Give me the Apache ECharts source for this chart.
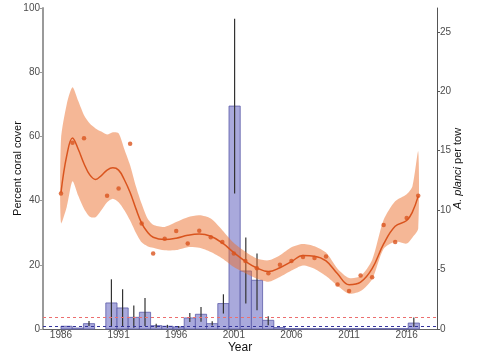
<!DOCTYPE html>
<html><head><meta charset="utf-8">
<script src="https://cdn.jsdelivr.net/npm/echarts@6/dist/echarts.min.js"></script>
<style>html,body{margin:0;padding:0;background:#fff}#c{width:480px;height:360px}</style>
</head><body><div id="c"></div>
<script>
// ---- data ----
const yearTicks = [1986, 1991, 1996, 2001, 2006, 2011, 2016];
const coverTicks = [0, 20, 40, 60, 80, 100];
const cotsTicks = [0, 5, 10, 15, 20, 25];

const coverYears  = [1986,1987,1988,1990,1991,1992,1993,1994,1995,1996,1997,1998,1999,2000,2001,2002,2003,2004,2005,2006,2007,2008,2009,2010,2011,2012,2013,2014,2015,2016,2017];
const coverValues = [42.2,58.0,59.4,41.5,43.8,57.7,32.9,23.5,28.1,30.5,26.6,30.6,28.6,27.1,23.5,21.2,18.9,17.4,20.0,21.2,22.4,22.1,22.6,13.9,11.8,16.7,16.1,32.4,27.1,34.6,41.5];

const fitYears = [1986,1986.5,1987,1987.5,1988,1988.5,1989,1989.5,1990,1990.5,1991,1991.5,1992,1992.5,1993,1993.5,1994,1995,1996,1997,1998,1999,2000,2001,2002,2003,2004,2005,2006,2007,2008,2009,2010,2011,2012,2013,2014,2015,2016,2016.5,2017];
const fitValues = [42.5,54,59.5,56,51.5,48,46.6,47.8,49.5,50.2,49.5,46.5,42.5,37.5,33,30.2,28.6,27.9,28.3,29.2,29.6,28.9,26.8,23.8,21.1,19.0,17.9,19.1,21.0,22.9,22.7,21.2,17.2,13.8,14.6,18.8,26.5,32.0,33.8,36.5,41.4];
const fitUpper  = [59,70,75.3,71,66.6,64,62.5,61.5,60.6,61.3,61,56,51,44.5,39,34.5,32.5,31.8,33.3,34.8,35.4,34.4,30.8,26.8,24.1,22.0,21.4,23.0,25.5,26.5,25.8,23.8,18.8,15.9,16.5,21.5,34,39.8,42,44.5,55.3];
const fitLower  = [33,38,46,41.5,37.5,35,34.8,37,39.5,40.6,39.5,37,33.8,30,27,25.8,25.3,24.5,24.6,25.5,25.3,24.0,22.0,19.3,17.4,15.7,14.7,16.2,18.2,19.8,18.8,16.5,13.5,11.0,11.8,15.5,25,27.2,26.6,28.5,31.3];

// A. planci surveys 1986..2017 (index 0..31); 1989 not surveyed
const surveyYears = [1986,1987,1988,1989,1990,1991,1992,1993,1994,1995,1996,1997,1998,1999,2000,2001,2002,2003,2004,2005,2006,2007,2008,2009,2010,2011,2012,2013,2014,2015,2016,2017];
const cotsValues  = [0.23,0.08,0.45,null,2.19,1.77,0.98,1.41,0.28,0.23,0.17,0.93,1.24,0.45,2.14,18.75,4.88,4.1,0.73,0.12,0.03,0.03,0.02,0.03,0.02,0.02,0.03,0.02,0.03,0.03,0.03,0.5];
const cotsErrLow  = [null,null,0.25,null,0.2,0.2,0.1,0.25,0.1,0.1,0.1,0.59,0.6,0.3,1.3,11.4,2.14,1.57,0.31,null,null,null,null,null,null,null,null,null,null,null,null,0.17];
const cotsErrHigh = [null,null,0.67,null,4.18,3.34,1.97,2.61,0.45,0.35,0.25,1.35,1.85,0.65,2.92,26.1,7.69,6.35,1.07,null,null,null,null,null,null,null,null,null,null,null,null,0.96];

const thresholdValues = [1.0, 0.22];          // outbreak, incipient outbreak
const thresholdColors = ['#ec6f6f', '#34349c'];

// ---- chart ----
const chart = echarts.init(document.getElementById('c'), null, {renderer: 'canvas'});
const orange = '#d9541e';
const labelStyle = {fontSize: 10, color: '#4d4d4d', fontFamily: 'Liberation Sans, Arial, sans-serif'};

const barData = [];
surveyYears.forEach((y, i) => {
  if (cotsValues[i] == null) return;
  barData.push([i, cotsValues[i], cotsErrLow[i] == null ? NaN : cotsErrLow[i], cotsErrHigh[i] == null ? NaN : cotsErrHigh[i]]);
});

const X_MIN = -1.607, X_MAX = 33.57;

const option = {
  animation: false,
  backgroundColor: '#fff',
  textStyle: {fontFamily: 'Liberation Sans, Arial, sans-serif'},
  grid: {left: 43, right: 43, top: 8, bottom: 31},
  xAxis: [{
    type: 'value', min: 1984.44, max: 2018.63,
    axisLine: {show: true, onZero: false, lineStyle: {color: '#666', width: 1}},
    axisTick: {show: true, length: 3, lineStyle: {color: '#666'}, customValues: yearTicks},
    axisLabel: Object.assign({margin: 1, customValues: yearTicks, formatter: v => String(v)}, labelStyle),
    splitLine: {show: false},
    name: 'Year', nameLocation: 'middle', nameGap: 13, nameMoveOverlap: false,
    nameTextStyle: {fontSize: 12, color: '#111'}
  }, {
    type: 'value', min: X_MIN, max: X_MAX, show: false,
    axisLine: {onZero: false}
  }],
  yAxis: [{
    type: 'value', min: 0, max: 100,
    axisLine: {show: true, onZero: false, lineStyle: {color: '#9a9a9a', width: 2}},
    axisTick: {show: true, length: 3, lineStyle: {color: '#9a9a9a'}, customValues: coverTicks},
    axisLabel: Object.assign({margin: 3, customValues: coverTicks}, labelStyle),
    splitLine: {show: false},
    name: 'Percent coral cover', nameLocation: 'middle', nameGap: 20, nameRotate: 90, nameMoveOverlap: false,
    nameTextStyle: {fontSize: 11, color: '#111'}
  }, {
    type: 'value', min: 0, max: 27, position: 'right',
    axisLine: {show: true, onZero: false, lineStyle: {color: '#555', width: 1}},
    axisTick: {show: true, length: 3, lineStyle: {color: '#555'}, customValues: cotsTicks},
    axisLabel: Object.assign({margin: 3, customValues: cotsTicks}, labelStyle),
    splitLine: {show: false},
    name: '{i|A. planci} per tow', nameLocation: 'middle', nameGap: 15, nameRotate: 90, nameMoveOverlap: false,
    nameTextStyle: {fontSize: 11, color: '#111', rich: {i: {fontStyle: 'italic', fontSize: 11, color: '#111'}}}
  }],
  series: [
    {
      type: 'custom', xAxisIndex: 1, yAxisIndex: 1, z: 1,
      data: barData,
      renderItem: (params, api) => {
        const i = api.value(0), v = api.value(1), lo = api.value(2), hi = api.value(3);
        const p0 = api.coord([i, v]);
        const p1 = api.coord([i + 1, 0]);
        const children = [{
          type: 'rect',
          shape: {x: p0[0], y: p0[1], width: p1[0] - p0[0], height: p1[1] - p0[1]},
          style: {fill: '#a9a9dc', stroke: '#5c5ca8', lineWidth: 0.8}
        }];
        if (!isNaN(hi)) {
          const e0 = api.coord([i + 0.5, lo]);
          const e1 = api.coord([i + 0.5, hi]);
          children.push({type: 'line', shape: {x1: e0[0], y1: e0[1], x2: e1[0], y2: e1[1]},
            style: {stroke: '#333', lineWidth: 1.2}});
        }
        return {type: 'group', children};
      }
    },
    {
      type: 'custom', xAxisIndex: 1, yAxisIndex: 1, z: 2, silent: true,
      data: thresholdValues.map((v, i) => [i, v]),
      renderItem: (params, api) => {
        const v = api.value(1);
        const a = api.coord([X_MIN, v]);
        const b = api.coord([X_MAX, v]);
        const y = Math.round(a[1]) + 0.5;
        return {type: 'line', shape: {x1: a[0], y1: y, x2: b[0], y2: y},
          style: {stroke: thresholdColors[params.dataIndex], lineWidth: 1, lineDash: [3, 3]}};
      }
    },
    {
      type: 'custom', xAxisIndex: 0, yAxisIndex: 0, z: 3, silent: true,
      data: [0],
      renderItem: (params, api) => {
        const pts = [];
        for (let i = 0; i < fitYears.length; i++) pts.push(api.coord([fitYears[i], fitUpper[i]]));
        for (let i = fitYears.length - 1; i >= 0; i--) pts.push(api.coord([fitYears[i], fitLower[i]]));
        return {type: 'polygon', shape: {points: pts, smooth: 0.25}, style: {fill: 'rgba(235,112,45,0.5)'}};
      }
    },
    {
      type: 'line', xAxisIndex: 0, yAxisIndex: 0, z: 4,
      data: fitYears.map((y, i) => [y, fitValues[i]]),
      symbol: 'none', smooth: 0.4, lineStyle: {color: orange, width: 1.5}
    },
    {
      type: 'scatter', xAxisIndex: 0, yAxisIndex: 0, z: 5,
      data: coverYears.map((y, i) => [y, coverValues[i]]),
      symbolSize: 4.5, itemStyle: {color: orange}
    }
  ]
};
chart.setOption(option);
</script>
</body></html>
